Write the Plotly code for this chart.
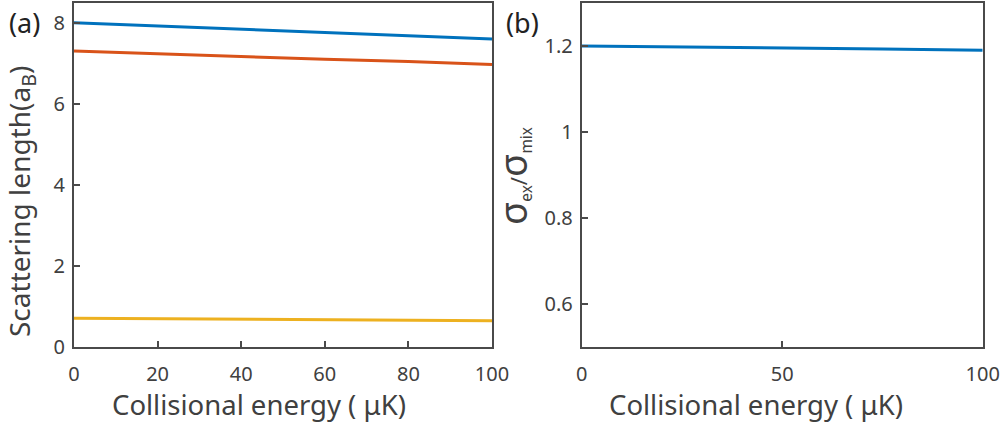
import plotly.graph_objects as go

# Data
energy_a = [0, 20, 40, 60, 80, 100]
blue_a = [8.01, 7.93, 7.85, 7.77, 7.69, 7.61]
orange_a = [7.31, 7.24, 7.18, 7.11, 7.05, 6.98]
yellow_a = [0.70, 0.69, 0.68, 0.67, 0.655, 0.64]

energy_b = [0, 25, 50, 75, 100]
ratio_b = [1.200, 1.198, 1.195, 1.193, 1.190]

xticks_a = [0, 20, 40, 60, 80, 100]
yticks_a = [0, 2, 4, 6, 8]
xticks_b = [0, 50, 100]
yticks_b = [0.6, 0.8, 1, 1.2]

BLUE = "#0072BD"
ORANGE = "#D95319"
YELLOW = "#EDB120"
AX = "#4a4a4a"
TXT = "#404040"
FONT = "Noto Sans"

fig = go.Figure()
fig.add_trace(go.Scatter(x=energy_a, y=blue_a, mode="lines", line=dict(color=BLUE, width=3), xaxis="x", yaxis="y"))
fig.add_trace(go.Scatter(x=energy_a, y=orange_a, mode="lines", line=dict(color=ORANGE, width=3), xaxis="x", yaxis="y"))
fig.add_trace(go.Scatter(x=energy_a, y=yellow_a, mode="lines", line=dict(color=YELLOW, width=3), xaxis="x", yaxis="y"))
fig.add_trace(go.Scatter(x=energy_b, y=ratio_b, mode="lines", line=dict(color=BLUE, width=3), xaxis="x2", yaxis="y2"))

W, H = 1003, 424
ydom = [1 - 346.5 / H, 1 - 3 / H]

axis_common = dict(
    showline=True, linecolor=AX, linewidth=2, mirror=True,
    ticks="inside", ticklen=6, tickwidth=1.5, tickcolor=AX,
    showgrid=False, zeroline=False, automargin=False,
    tickfont=dict(family=FONT, size=20, color=TXT),
)

fig.update_layout(
    width=W, height=H,
    margin=dict(l=0, r=0, t=0, b=0, autoexpand=False),
    paper_bgcolor="white", plot_bgcolor="white",
    showlegend=False,
    xaxis=dict(domain=[74 / W, 492 / W], range=[0, 100], tickvals=xticks_a, anchor="y",
               ticklabelstandoff=8, **axis_common),
    yaxis=dict(domain=ydom, range=[0, 8.5], tickvals=yticks_a, anchor="x",
               ticklabelstandoff=3, **axis_common),
    xaxis2=dict(domain=[581.7 / W, 982.7 / W], range=[0, 100], tickvals=xticks_b, anchor="y2",
                ticklabelstandoff=8, **axis_common),
    yaxis2=dict(domain=ydom, range=[0.5, 1.3], tickvals=yticks_b, ticktext=["0.6", "0.8", "1", "1.2"],
                anchor="x2", ticklabelstandoff=3, **axis_common),
)

def ann(text, x, y, size, angle=0, color=TXT):
    fig.add_annotation(text=text, x=x / W, y=1 - y / H, xref="paper", yref="paper",
                       showarrow=False, textangle=angle, xanchor="center", yanchor="middle",
                       font=dict(family=FONT, size=size, color=color))

ann("Collisional energy ( μK)", 259, 404, 27.5)
ann("Collisional energy ( μK)", 756, 404, 27.5)
ann("Scattering length(a<sub>B</sub>)", 21, 202, 28, -90)
ann("<span style='font-size:38px'>σ</span><sub>ex</sub>/<span style='font-size:38px'>σ</span><sub>mix</sub>",
    512, 176, 22, -90)
ann("(a)", 24, 22, 27, color="#222222")
ann("(b)", 522, 22, 27, color="#222222")

fig.write_html("out.html")
